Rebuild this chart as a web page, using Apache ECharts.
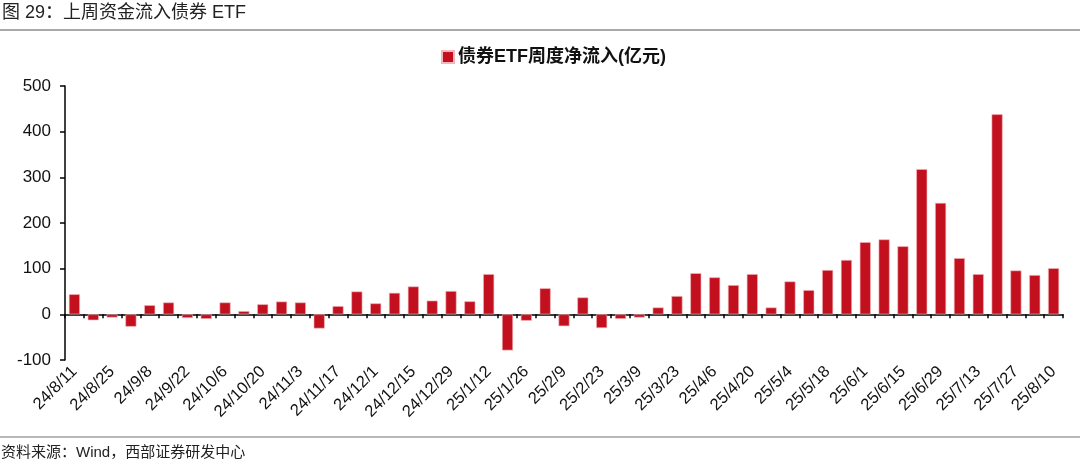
<!DOCTYPE html>
<html>
<head>
<meta charset="utf-8">
<script src="https://cdn.jsdelivr.net/npm/echarts@6/dist/echarts.min.js"></script>
<style>
html,body{margin:0;padding:0;background:#fff;}
#chart{width:1080px;height:469px;}
</style>
</head>
<body>
<div id="chart"></div>
<script>
const categories = [
  '24/8/11','24/8/18','24/8/25','24/9/1','24/9/8','24/9/15','24/9/22','24/9/29',
  '24/10/6','24/10/13','24/10/20','24/10/27','24/11/3','24/11/10','24/11/17','24/11/24',
  '24/12/1','24/12/8','24/12/15','24/12/22','24/12/29','25/1/5','25/1/12','25/1/19',
  '25/1/26','25/2/2','25/2/9','25/2/16','25/2/23','25/3/2','25/3/9','25/3/16',
  '25/3/23','25/3/30','25/4/6','25/4/13','25/4/20','25/4/27','25/5/4','25/5/11',
  '25/5/18','25/5/25','25/6/1','25/6/8','25/6/15','25/6/22','25/6/29','25/7/6',
  '25/7/13','25/7/20','25/7/27','25/8/3','25/8/10'
];
const weeklyInflow = [
  44, -13, -7, -27, 20, 26, -8, -10,
  26, 7, 22, 28, 26, -31, 18, 50,
  24, 47, 61, 30, 51, 28.5, 88, -79,
  -14, 57, -26, 37, -30, -10, -7, 15,
  40, 90, 81, 64, 88, 15, 72, 53,
  97, 119, 158, 164, 149, 318, 244, 123,
  88, 438, 96, 86, 101
];
const yTicks = { min: -100, max: 500, interval: 100 };
const seriesName = '债券ETF周度净流入(亿元)';
const titleText = '图 29：上周资金流入债券 ETF';
const sourceText = '资料来源：Wind，西部证券研发中心';

const chart = echarts.init(document.getElementById('chart'), null, { renderer: 'canvas' });
const latin = 'Liberation Sans, Arial, Noto Sans CJK SC, sans-serif';

chart.setOption({
  animation: false,
  backgroundColor: '#fff',
  graphic: [
    { type: 'text', left: 2, top: 4, style: { text: titleText, font: '18px ' + latin, fill: '#222' } },
    { type: 'line', shape: { x1: 0, y1: 30, x2: 1080, y2: 30 }, style: { stroke: '#8c8c8c', lineWidth: 1.5 } },
    { type: 'line', shape: { x1: 0, y1: 437, x2: 1080, y2: 437 }, style: { stroke: '#a0a0a0', lineWidth: 1.5 } },
    { type: 'text', left: 1, top: 445, style: { text: sourceText, font: '15px ' + latin, fill: '#222' } }
  ],
  legend: {
    data: [seriesName],
    left: 436, top: 43,
    icon: 'rect', itemWidth: 12, itemHeight: 12, itemGap: 4,
    textStyle: { fontSize: 18, fontWeight: 'bold', color: '#111', fontFamily: latin, padding: [0,0,0,-1] }
  },
  grid: { left: 65, right: 17, top: 86, bottom: 109, containLabel: false },
  xAxis: [
    {
      type: 'category', data: categories, position: 'bottom',
      axisLine: { show: false, onZero: false },
      axisTick: { show: false },
      axisLabel: { interval: 1, rotate: 45, margin: 9, fontSize: 16.5, color: '#111', fontFamily: latin }
    },
    {
      type: 'category', data: categories, position: 'top',
      axisLine: { show: true, onZero: true, lineStyle: { color: '#000', width: 1.5 } },
      axisTick: { show: true, inside: true, interval: 0, length: 4, lineStyle: { color: '#000', width: 1.5 } },
      axisLabel: { show: false }
    }
  ],
  yAxis: {
    type: 'value', min: yTicks.min, max: yTicks.max, interval: yTicks.interval,
    axisLine: { show: true, lineStyle: { color: '#000', width: 1.5 } },
    axisTick: { show: true, length: 5, lineStyle: { color: '#000', width: 1.5 } },
    axisLabel: { fontSize: 17, color: '#111', margin: 14, fontFamily: latin },
    splitLine: { show: false }
  },
  series: [{
    name: seriesName, type: 'bar', data: weeklyInflow, xAxisIndex: 0,
    barWidth: 11,
    itemStyle: { color: '#C3101F', borderColor: '#f2b6bb', borderWidth: 0.6 }
  }]
});
</script>
</body>
</html>
